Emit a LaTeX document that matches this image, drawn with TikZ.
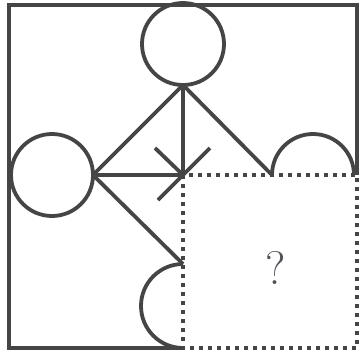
\documentclass[tikz,border=0pt]{standalone}
\begin{document}
\begin{tikzpicture}[x=1pt,y=-1pt,
  ink/.style={draw=linec,line width=3.8pt},
  ring/.style={circle,ink,minimum size=82pt,inner sep=0pt,outer sep=0pt},
  dotbox/.style={draw=linec,line width=4pt,dash pattern=on 4pt off 5pt}]
\definecolor{linec}{HTML}{454545}
\definecolor{qc}{HTML}{55505A}
\useasboundingbox (0,0) rectangle (362,354);
\fill[white] (0,0) rectangle (362,354);
% key points
\coordinate (c) at (183,175);
\coordinate (bl) at (9,348);
\coordinate (tl) at (9,5);
\coordinate (tr) at (357,5);
\coordinate (rm) at (357,175);
\coordinate (bm) at (183,348);
\coordinate (br) at (357,348);
% circles
\node[ring] (top) at (183,44) {};
\node[ring] (left) at (52,175) {};
\coordinate (apex) at (top.south);
\coordinate (lp) at (left.east);
% semicircles
\coordinate (rs) at (272,175);
\coordinate (bs) at (183,264);
\draw[ink] (rs) arc[start angle=180,end angle=0,radius=41pt];
\draw[ink] (bs) arc[start angle=90,end angle=270,radius=42pt];
% outer frame
\draw[ink,line join=miter] (bm) -- (bl) -- (tl) -- (tr) -- (rm);
% spokes
\draw[ink] (apex) -- (lp);
\draw[ink] (apex) -- (rs);
\draw[ink] (apex) -- (c);
\draw[ink] (lp) -- (c);
\draw[ink] (lp) -- (bs);
% cross
\coordinate (x1) at (155,148);
\coordinate (x2) at (210,148);
\coordinate (x3) at (158,200);
\draw[ink] (x1) -- (c);
\draw[ink] (x2) -- (x3);
% missing piece
\draw[dotbox] (c) rectangle (br);
\node[text=qc,font=\fontsize{47}{50}\selectfont] (q) at (276,268) {?};
\end{tikzpicture}
\end{document}
